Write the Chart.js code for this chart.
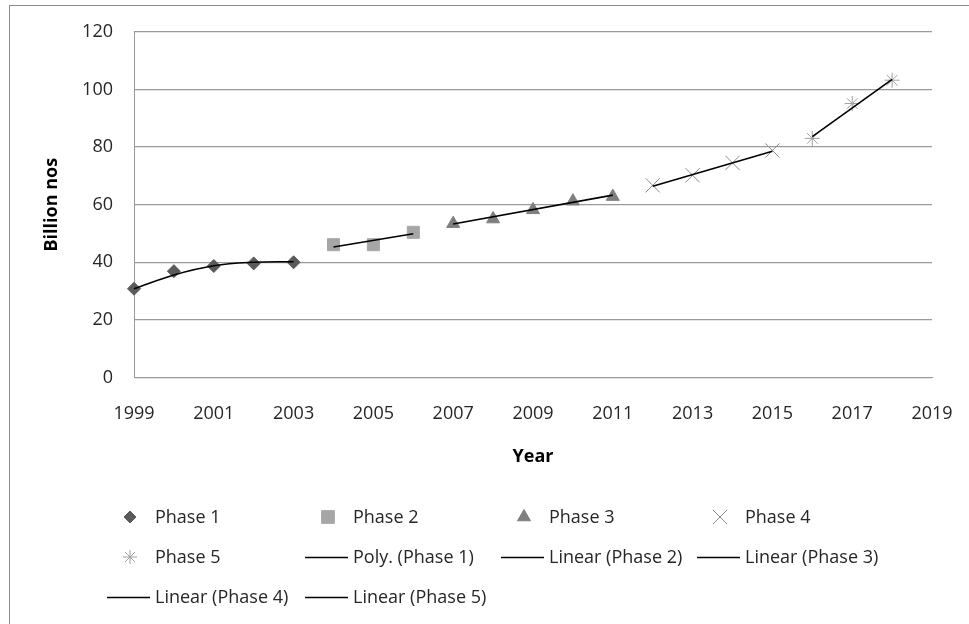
<!DOCTYPE html>
<html>
<head>
<meta charset="utf-8">
<script src="https://cdn.jsdelivr.net/npm/chart.js@4.4.1/dist/chart.umd.min.js"></script>
<style>
  html, body { margin: 0; padding: 0; background: #ffffff; }
  #wrap { width: 969px; height: 624px; }
</style>
</head>
<body>
<div id="wrap"><canvas id="chart" width="969" height="624"></canvas></div>
<script>
// Observed values per phase (year, billion nos)
const phase1Years = [1999, 2000, 2001, 2002, 2003];
const phase1Values = [30.8, 36.9, 38.7, 39.6, 40.0];
const phase2Years = [2004, 2005, 2006];
const phase2Values = [46.1, 46.1, 50.4];
const phase3Years = [2007, 2008, 2009, 2010, 2011];
const phase3Values = [53.4, 55.0, 58.2, 61.2, 62.8];
const phase4Years = [2012, 2013, 2014, 2015];
const phase4Values = [66.7, 70.2, 74.5, 78.8];
const phase5Years = [2016, 2017, 2018];
const phase5Values = [83.0, 95.1, 103.2];

// Trendlines
const polyPhase1Years = [1999, 2000, 2001, 2002, 2003];
const polyPhase1Values = [30.8, 35.6, 38.8, 40.0, 40.2];
const linPhase2Years = [2004, 2006];
const linPhase2Values = [45.3, 49.9];
const linPhase3Years = [2007, 2011];
const linPhase3Values = [53.3, 63.3];
const linPhase4Years = [2012, 2015];
const linPhase4Values = [66.4, 78.5];
const linPhase5Years = [2016, 2018];
const linPhase5Values = [83.6, 103.5];

// Axis ticks
const yearTicks = [1999, 2001, 2003, 2005, 2007, 2009, 2011, 2013, 2015, 2017, 2019];
const valueTicks = [0, 20, 40, 60, 80, 100, 120];

const legendColumns = [155, 353, 549, 745];
const legendRows = [517, 557, 597];

const FONT = "'Open Sans', 'Noto Sans', sans-serif";
const TEXT = '#262626';

function pts(xs, ys) { return xs.map((x, i) => ({ x: x, y: ys[i] })); }

function markerSet(label, xs, ys, style, radius, fill, stroke, legendRadius) {
  return {
    label: label, data: pts(xs, ys), showLine: false, order: 1, clip: false,
    pointStyle: style, pointRadius: radius, pointHoverRadius: radius,
    backgroundColor: fill, borderColor: stroke, pointBorderWidth: 1, borderWidth: 1,
    legendRadius: legendRadius
  };
}
function trendSet(label, xs, ys, tension) {
  return {
    label: label, data: pts(xs, ys), showLine: true, order: 0, clip: false,
    pointRadius: 0, pointHoverRadius: 0, borderColor: '#000000', borderWidth: 1.6,
    backgroundColor: '#000000', tension: tension || 0, fill: false
  };
}

const datasets = [
  markerSet('Phase 1', phase1Years, phase1Values, 'rectRot', 6.5, '#5a5a5a', '#5a5a5a', 6),
  markerSet('Phase 2', phase2Years, phase2Values, 'rect', 8.5, '#a6a6a6', '#a6a6a6', 9),
  markerSet('Phase 3', phase3Years, phase3Values, 'triangle', 7.5, '#7f7f7f', '#7f7f7f', 7.5),
  markerSet('Phase 4', phase4Years, phase4Values, 'crossRot', 10, 'rgba(0,0,0,0)', '#8a8a8a', 10),
  markerSet('Phase 5', phase5Years, phase5Values, 'star', 7.5, 'rgba(0,0,0,0)', '#a0a0a0', 7),
  trendSet('Poly. (Phase 1)', polyPhase1Years, polyPhase1Values, 0.4),
  trendSet('Linear (Phase 2)', linPhase2Years, linPhase2Values),
  trendSet('Linear (Phase 3)', linPhase3Years, linPhase3Values),
  trendSet('Linear (Phase 4)', linPhase4Years, linPhase4Values),
  trendSet('Linear (Phase 5)', linPhase5Years, linPhase5Values)
];

// Frame around the whole chart and white background
const framePlugin = {
  id: 'frame',
  beforeDraw(chart) {
    const ctx = chart.ctx;
    ctx.save();
    ctx.fillStyle = '#ffffff';
    ctx.fillRect(0, 0, chart.width, chart.height);
    ctx.strokeStyle = '#8c8c8c';
    ctx.lineWidth = 1;
    ctx.strokeRect(9.5, 5.5, chart.width + 20, chart.height + 20);
    ctx.restore();
  }
};

// Legend laid out as a four-column grid below the axis title
const gridLegendPlugin = {
  id: 'gridLegend',
  afterDraw(chart) {
    const ctx = chart.ctx;
    ctx.save();
    ctx.font = '18px ' + FONT;
    ctx.textBaseline = 'middle';
    ctx.textAlign = 'left';
    chart.data.datasets.forEach((ds, i) => {
      const tx = legendColumns[i % 4];
      const ty = legendRows[Math.floor(i / 4)];
      if (ds.showLine) {
        ctx.strokeStyle = ds.borderColor;
        ctx.lineWidth = 1.6;
        ctx.beginPath();
        ctx.moveTo(tx - 48, ty + 0.5);
        ctx.lineTo(tx - 5, ty + 0.5);
        ctx.stroke();
      } else {
        ctx.fillStyle = ds.backgroundColor;
        ctx.strokeStyle = ds.borderColor;
        ctx.lineWidth = 1;
        Chart.helpers.drawPoint(ctx, {
          pointStyle: ds.pointStyle, rotation: 0,
          radius: ds.legendRadius, borderWidth: 1
        }, tx - 25, ty);
      }
      ctx.fillStyle = TEXT;
      ctx.fillText(ds.label, tx, ty + 1);
    });
    ctx.restore();
  }
};

new Chart(document.getElementById('chart'), {
  type: 'scatter',
  data: { datasets: datasets },
  plugins: [framePlugin, gridLegendPlugin],
  options: {
    responsive: false,
    animation: false,
    devicePixelRatio: 1,
    layout: { padding: { left: 41, top: 29, right: 37, bottom: 156 } },
    plugins: { legend: { display: false }, tooltip: { enabled: false } },
    scales: {
      x: {
        type: 'linear', min: 1999, max: 2019,
        afterFit(scale) {
          scale.height = 90.5;
          scale.paddingLeft = 0;
          scale.paddingRight = 0;
        },
        afterBuildTicks(scale) { scale.ticks = yearTicks.map(v => ({ value: v })); },
        grid: { display: false, drawTicks: false },
        border: { display: true, color: '#999999', width: 1 },
        ticks: {
          padding: 26, color: TEXT, font: { family: FONT, size: 18 },
          maxRotation: 0, autoSkip: false,
          callback: v => String(v)
        },
        title: {
          display: true, text: 'Year', color: '#000000', padding: 0,
          font: { family: FONT, size: 18, weight: 'bold' }
        }
      },
      y: {
        min: 0, max: 120,
        afterFit(scale) { scale.width = 93; },
        afterBuildTicks(scale) { scale.ticks = valueTicks.map(v => ({ value: v })); },
        grid: { color: '#9a9a9a', lineWidth: 1.2, drawTicks: false },
        border: { display: true, color: '#999999', width: 1 },
        ticks: {
          padding: 21, color: TEXT, font: { family: FONT, size: 18 },
          callback: v => String(v)
        },
        title: {
          display: true, text: 'Billion nos', color: '#000000', padding: 0,
          font: { family: FONT, size: 18, weight: 'bold' }
        }
      }
    }
  }
});
</script>
</body>
</html>
